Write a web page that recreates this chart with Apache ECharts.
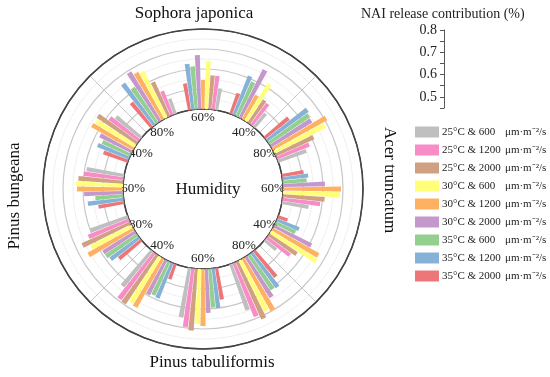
<!DOCTYPE html>
<html>
<head>
<meta charset="utf-8">
<script src="https://cdn.jsdelivr.net/npm/echarts@6/dist/echarts.min.js"></script>
<style>html,body{margin:0;padding:0;background:#fff}#c{width:550px;height:377px}</style>
</head>
<body>
<div id="c"></div>
<script>
// ---- data ----
const humidity = ['60%','40%','80%','60%','40%','80%','60%','40%','80%','60%','40%','80%'];
const species = ['Sophora japonica','Acer truncatum','Pinus tabuliformis','Pinus bungeana'];
const conditions = ['25°C & 600','25°C & 1200','25°C & 2000','30°C & 600','30°C & 1200','30°C & 2000','35°C & 600','35°C & 1200','35°C & 2000'];
const unit = 'μm·m⁻²/s';
const scaleTitle = 'NAI release contribution (%)';
const centerTitle = 'Humidity';
const t25_600  = [0.51, 0.49, 0.55, 0.535, 0.475, 0.645, 0.65, 0.63, 0.60, 0.59, 0.565, 0.48];
const t25_1200 = [0.57, 0.535, 0.575, 0.59, 0.545, 0.69, 0.695, 0.69, 0.62, 0.60, 0.585, 0.53];
const t25_2000 = [0.57, 0.54, 0.61, 0.61, 0.57, 0.715, 0.71, 0.695, 0.665, 0.625, 0.64, 0.59];
const t30_600  = [0.64, 0.62, 0.685, 0.685, 0.67, 0.685, 0.675, 0.67, 0.63, 0.635, 0.63, 0.66];
const t30_1200 = [0.545, 0.54, 0.71, 0.69, 0.665, 0.70, 0.685, 0.68, 0.66, 0.63, 0.64, 0.67];
const t30_2000 = [0.67, 0.67, 0.64, 0.61, 0.61, 0.64, 0.62, 0.595, 0.59, 0.595, 0.58, 0.69];
const t35_600  = [0.615, 0.59, 0.645, 0.52, 0.51, 0.61, 0.595, 0.585, 0.59, 0.54, 0.555, 0.615];
const t35_1200 = [0.63, 0.61, 0.655, 0.53, 0.52, 0.615, 0.60, 0.59, 0.58, 0.58, 0.57, 0.66];
const t35_2000 = [0.535, 0.51, 0.555, 0.51, 0.45, 0.57, 0.56, 0.48, 0.545, 0.53, 0.53, 0.56];
const seriesValues = [t25_600, t25_1200, t25_2000, t30_600, t30_1200, t30_2000, t35_600, t35_1200, t35_2000];
const radialMin = 0.4, radialMax = 0.8, radialStep = 0.1;
const scaleMin = 0.45, scaleMax = 0.8, scaleStep = 0.05;

// ---- style ----
const colors = ['#bfbfbf','#f78cc6','#d0a083','#ffff7a','#ffb162','#c598cc','#93cf8f','#87b2d8','#ed7778'];
const FONT = '"Liberation Serif","Times New Roman",serif';

const chart = echarts.init(document.getElementById('c'));
// clockwise order in each group runs 35°C & 2000 ... 25°C & 600, so add series in reverse
const series = conditions.map((c, i) => ({
  name: c,
  type: 'bar',
  coordinateSystem: 'polar',
  polarIndex: 0,
  data: seriesValues[i],
  itemStyle: { color: colors[i] },
  barGap: '12%',
  barCategoryGap: '28%',
  clip: true,
  z: 3
})).reverse();

// humidity labels: push the top / bottom ones a little further out
const humidityLabels = humidity.map((h, i) => {
  if (i === 0) return { value: h, textStyle: { padding: [0, 0, 7, 0] } };
  if (i === 6) return { value: h, textStyle: { padding: [5, 0, 0, 0] } };
  return h;
});

chart.setOption({
  animation: false,
  textStyle: { fontFamily: FONT },
  title: [{
    text: scaleTitle, left: 361, top: 7, padding: 0,
    textStyle: { fontFamily: FONT, fontSize: 14, fontWeight: 'normal', color: '#222' }
  }],
  legend: {
    orient: 'vertical', left: 415, top: 126, padding: 0,
    itemWidth: 24, itemHeight: 11, itemGap: 6,
    icon: 'rect',
    data: conditions,
    formatter: n => '{a|' + n + '}{b|' + unit + '}',
    textStyle: {
      fontFamily: FONT, fontSize: 11, color: '#222', lineHeight: 12, padding: [0,0,0,-2],
      rich: { a: { width: 63, fontFamily: FONT, fontSize: 11 }, b: { fontFamily: FONT, fontSize: 11 } }
    }
  },
  polar: [
    { center: [203, 189], radius: [80, 160] },
    { center: [203, 189], radius: 52 },
    { center: [203, 189], radius: [80, 160] }
  ],
  angleAxis: [{
    polarIndex: 0, type: 'category', data: humidity, startAngle: 105,
    axisLine: { show: true, lineStyle: { color: '#444', width: 1.5 } },
    axisTick: { show: false }, axisLabel: { show: false }, splitLine: { show: false }
  }, {
    polarIndex: 1, type: 'category', data: humidityLabels, startAngle: 105,
    axisLine: { show: false }, axisTick: { show: false }, splitLine: { show: false },
    axisLabel: { show: true, interval: 0, margin: 6, fontFamily: FONT, fontSize: 13, color: '#222' }
  }, {
    polarIndex: 2, type: 'category', data: species, startAngle: 135,
    axisLine: { show: false }, axisTick: { show: false }, axisLabel: { show: false },
    splitLine: { show: true, lineStyle: { color: '#bbb', width: 0.8 } }
  }],
  radiusAxis: [{
    polarIndex: 0, type: 'value', min: radialMin, max: radialMax, interval: radialStep,
    axisLine: { show: false }, axisTick: { show: false }, axisLabel: { show: false },
    splitLine: { show: true, lineStyle: { color: ['#444','#c8c8c8','#c8c8c8','#c8c8c8','#444'], width: 1.2 } },
    minorTick: { show: false, splitNumber: 2 },
    minorSplitLine: { show: true, lineStyle: { color: '#d5d5d5', type: 'dotted', width: 0.8 } }
  }, {
    polarIndex: 1, type: 'value', show: false
  }, {
    polarIndex: 2, type: 'value', show: false
  }],
  grid: { left: 444, top: 30, width: 30, height: 78 },
  xAxis: { type: 'value', show: false },
  yAxis: {
    type: 'value', min: scaleMin, max: scaleMax, interval: scaleStep,
    axisLine: { show: true, lineStyle: { color: '#555', width: 1 } },
    axisTick: { show: true, length: 4, lineStyle: { color: '#555' } },
    splitLine: { show: false },
    axisLabel: {
      margin: 7, fontFamily: FONT, fontSize: 14, color: '#222',
      formatter: v => (Math.round(v * 100) % 10 === 0 && v > scaleMin + 1e-9) ? v.toFixed(1) : ''
    }
  },
  graphic: [
    { type: 'text', x: 194, y: 14, style: { text: species[0], font: '17px ' + FONT, fill: '#111', textAlign: 'center', textVerticalAlign: 'middle' } },
    { type: 'text', x: 389, y: 180, rotation: -Math.PI / 2, style: { text: species[1], font: '17px ' + FONT, fill: '#111', textAlign: 'center', textVerticalAlign: 'middle' } },
    { type: 'text', x: 212, y: 363, style: { text: species[2], font: '17px ' + FONT, fill: '#111', textAlign: 'center', textVerticalAlign: 'middle' } },
    { type: 'text', x: 15, y: 196, rotation: Math.PI / 2, style: { text: species[3], font: '17px ' + FONT, fill: '#111', textAlign: 'center', textVerticalAlign: 'middle' } },
    { type: 'text', x: 208, y: 190, style: { text: centerTitle, font: '17px ' + FONT, fill: '#111', textAlign: 'center', textVerticalAlign: 'middle' } }
  ],
  series: series
});
</script>
</body>
</html>
